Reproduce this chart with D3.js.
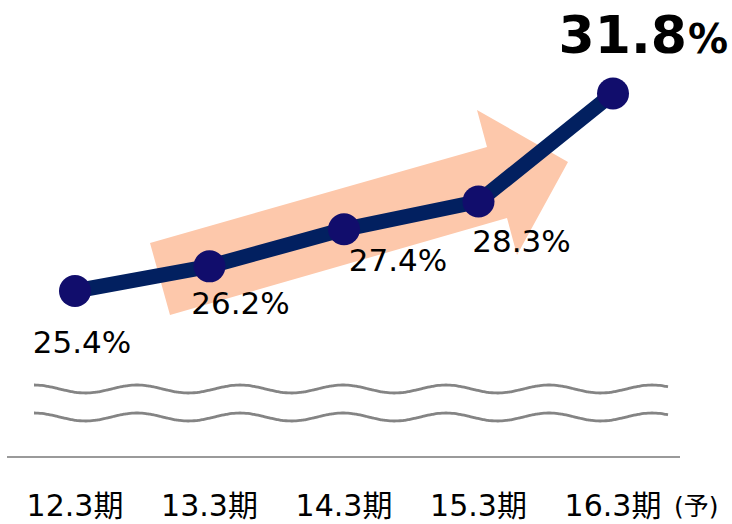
<!DOCTYPE html>
<html>
<head>
<meta charset="utf-8">
<script src="https://cdn.jsdelivr.net/npm/d3@7"></script>
<style>
  body { margin: 0; background: #fff; }
  text { font-family: "DejaVu Sans", "Noto Sans CJK JP", sans-serif; }
</style>
</head>
<body>
<div class="chart"></div>
<script>
let w = 732;
let h = 524;

// data
const periods = ["12.3期", "13.3期", "14.3期", "15.3期", "16.3期"];
const ratios = [25.4, 26.2, 27.4, 28.3, 31.8];
const forecastNote = "(予)";

// label nudges (px) relative to each point
const labelDx = [7, 31, 54, 43, 0];
const labelDy = [62, 48, 42, 50, 0];

const svg = d3.select(".chart")
  .append("svg")
  .attr("width", w)
  .attr("height", h);

const xScale = d3.scalePoint()
  .domain(periods)
  .range([75, 613]);

const yScale = d3.scaleLinear()
  .domain([25.4, 31.8])
  .range([291, 93.5]);

// trend arrow (decoration)
svg.append("path")
  .attr("d", "M150,243 L487,147 L477,110 L568,162 L517,255 L507,218 L170,315 Z")
  .attr("fill", "#fdc8ab");

// line
const line = d3.line()
  .x((d, i) => xScale(periods[i]))
  .y(d => yScale(d));

svg.append("path")
  .datum(ratios)
  .attr("d", line)
  .attr("fill", "none")
  .attr("stroke", "#022060")
  .attr("stroke-width", 15)
  .attr("stroke-linejoin", "round");

svg.selectAll("circle")
  .data(ratios)
  .enter()
  .append("circle")
  .attr("cx", (d, i) => xScale(periods[i]))
  .attr("cy", d => yScale(d))
  .attr("r", 16)
  .attr("fill", "#110d6c");

// value labels
svg.selectAll(".val")
  .data(ratios.slice(0, 4))
  .enter()
  .append("text")
  .attr("class", "val")
  .attr("x", (d, i) => xScale(periods[i]) + labelDx[i])
  .attr("y", (d, i) => yScale(d) + labelDy[i])
  .attr("text-anchor", "middle")
  .attr("font-size", 31)
  .attr("fill", "#000")
  .text(d => d.toFixed(1) + "%");

const last = ratios.length - 1;
const big = svg.append("text")
  .attr("x", 728)
  .attr("y", 53)
  .attr("text-anchor", "end")
  .attr("font-weight", "bold")
  .attr("fill", "#000");
big.append("tspan").attr("font-size", 52).text(ratios[last].toFixed(1));
big.append("tspan").attr("font-size", 40).attr("dx", 1).text("%");

// break marks (wavy)
const waveX = d3.range(34, 669, 2);
const wave = y0 => d3.line()
  .x(x => x)
  .y(x => y0 + 4 * Math.sin((x - 34) / 103 * 2 * Math.PI - Math.PI / 2))
  .curve(d3.curveBasis)(waveX);

[389, 417].forEach(y0 => {
  svg.append("path")
    .attr("d", wave(y0))
    .attr("fill", "none")
    .attr("stroke", "#848484")
    .attr("stroke-width", 2.8);
});

// x axis baseline
svg.append("line")
  .attr("x1", 7).attr("x2", 680)
  .attr("y1", 457).attr("y2", 457)
  .attr("stroke", "#9a9a9a")
  .attr("stroke-width", 2);

svg.selectAll(".cat")
  .data(periods)
  .enter()
  .append("text")
  .attr("class", "cat")
  .attr("x", d => xScale(d))
  .attr("y", 516)
  .attr("text-anchor", "middle")
  .attr("font-size", 30)
  .attr("fill", "#000")
  .text(d => d);

svg.append("text")
  .attr("x", 674)
  .attr("y", 515)
  .attr("font-size", 25)
  .attr("fill", "#000")
  .text(forecastNote);
</script>
</body>
</html>
